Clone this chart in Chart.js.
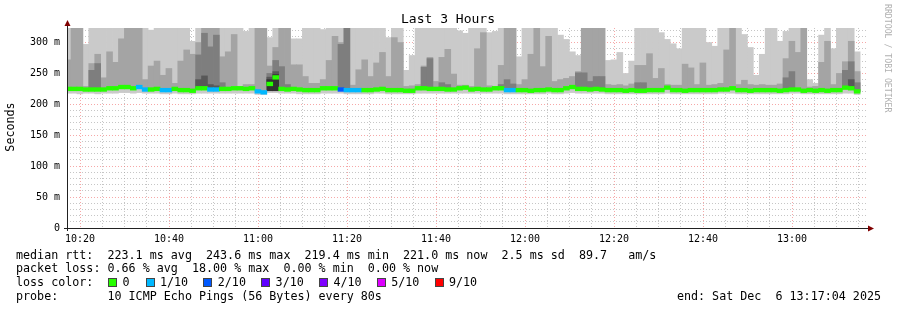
<!DOCTYPE html>
<html>
<head>
<meta charset="utf-8">
<title>Last 3 Hours</title>
<script src="https://cdn.jsdelivr.net/npm/chart.js@4"></script>
<style>
  body { margin: 0; background: #fff; }
  #wrap { position: relative; width: 897px; height: 310px; }
  .lg {
    position: absolute; white-space: pre; color: #000;
    font: 11.7px "DejaVu Sans Mono", monospace; line-height: 14px; height: 14px;
  }
  .box { position: absolute; width: 7px; height: 7px; border: 1px solid #444; }
</style>
</head>
<body>
<div id="wrap">
  <canvas id="chart" width="897" height="310"></canvas>
  <div class="lg" style="left:16px;top:248px">median rtt:  223.1 ms avg  243.6 ms max  219.4 ms min  221.0 ms now  2.5 ms sd  89.7   am/s</div>
  <div class="lg" style="left:16px;top:261px">packet loss: 0.66 % avg  18.00 % max  0.00 % min  0.00 % now</div>
  <div class="lg" style="left:16px;top:275px">loss color:</div>
  <div id="lossLegend"></div>
  <div class="lg" style="left:16px;top:289px">probe:       10 ICMP Echo Pings (56 Bytes) every 80s</div>
  <div class="lg" style="right:16px;top:289px">end: Sat Dec  6 13:17:04 2025</div>
</div>
<script>
// time axis in minutes after 10:00, one sample every 80 s
const viewStart = 17.07;   // 10:17:04
const viewEnd = 197.07;    // 13:17:04
const firstStep = 17.3;
const stepMin = 80 / 60;

// median rtt per step (ms)
const median = [
  225,225,225,224,224,224,224,226,226,228, 228,226,228,224,224,225,223,223,225,223,
  223,222,226,226,224,224,225,225,226,226, 225,226,221,219.4,233,243.6,225,224,225,224,
  223,223,223,226,226,226,224,223,223,223, 223,223,224,225,223,223,223,222,222,226,
  226,225,225,225,224,224,226,227,224,225, 224,224,226,226,223,223,223,223,222,223,
  223,224,223,223,226,228,225,225,224,225, 224,223,223,223,222,223,222,222,223,223,
  223,227,223,223,222,223,223,223,223,223, 224,224,226,223,223,222,223,223,223,223,
  222,223,224,224,222,223,222,223,222,223, 223,227,226,221,null
];
// lost pings out of 10 per step
const loss = [
  0,0,0,0,0,0,0,0,0,0, 0,0,1,1,0,0,1,1,0,0,
  0,0,0,0,1,1,0,0,0,0, 0,0,1,1,0,0,0,0,0,0,
  0,0,0,0,0,0,2,1,1,1, 0,0,0,0,0,0,0,0,0,0,
  0,0,0,0,0,0,0,0,0,0, 0,0,0,0,1,1,0,0,0,0,
  0,0,0,0,0,0,0,0,0,0, 0,0,0,0,0,0,0,0,0,0,
  0,0,0,0,0,0,0,0,0,0, 0,0,0,0,0,0,0,0,0,0,
  0,0,0,0,0,0,0,0,0,0, 0,0,0,0,0
];
// smoke: fastest ping, slowest ping and inner pings (ms)
const pingMin = [
  218,218,217,218,218,217,218,218,218,219, 219,218,219,218,218,218,217,217,218,217,
  217,217,218,218,218,218,218,218,218,218, 218,218,216,216,219,219,218,218,218,217,
  217,217,217,218,218,218,218,217,217,217, 217,217,218,218,217,217,217,217,217,218,
  218,218,218,218,218,218,218,218,218,218, 218,218,218,218,217,217,217,217,217,217,
  217,218,217,217,218,219,218,218,218,218, 218,217,217,217,217,217,217,217,217,217,
  217,218,217,217,217,217,217,217,217,217, 218,218,218,217,217,217,217,217,217,217,
  217,217,218,218,217,217,217,217,217,217, 217,218,218,216,null
];
const pingMax = [
  324,324,324,297,324,324,324,324,324,324, 324,324,324,324,320,324,324,324,324,324,
  324,302,324,324,324,324,324,324,324,324, 318,324,324,324,308,324,324,324,306,306,
  324,324,324,321,324,324,324,324,324,324, 324,324,324,324,308,324,324,255,279,324,
  324,324,324,324,324,324,319,315,324,324, 324,316,318,324,324,324,277,324,324,324,
  324,324,324,312,305,285,279,324,324,324, 324,271,272,284,250,270,324,324,324,324,
  316,305,298,290,324,324,324,324,300,294, 324,324,324,324,313,292,247,281,324,324,
  302,318,324,324,324,240,234,312,324,290, 324,324,324,285,null
];
const ping9 = [
  272,324,324,229,266,281,243,285,268,306, 324,324,324,240,262,270,247,258,234,270,
  288,281,300,324,324,324,277,285,313,229, 232,232,324,324,262,292,324,324,264,264,
  245,234,234,240,271,310,300,324,231,256, 272,245,267,284,245,308,300,229,230,232,
  262,276,237,276,289,249,231,231,229,290, 316,230,229,263,324,324,232,240,281,324,
  261,310,237,240,242,245,253,324,324,324, 324,232,231,232,230,233,263,263,282,242,
  258,232,231,231,265,259,232,267,231,232, 234,288,324,232,239,232,231,232,231,231,
  233,274,302,284,324,228,229,268,302,232, 250,269,302,253,null
];
// steps where the darker inner bands show up
const ping8 = { 4:255, 5:266, 22:280, 23:315, 24:293, 25:312, 26:235, 34:250, 35:271, 36:261,
  37:232, 46:297, 47:324, 60:260, 61:274, 63:235, 64:232, 73:232, 74:240, 75:233, 86:251,
  87:251, 88:237, 89:245, 90:245, 96:235, 97:235, 121:243, 122:253, 131:255, 132:269, 133:235 };
const ping7 = { 22:240, 23:246, 24:232, 25:230, 34:244, 35:253, 132:240 };
const ping6 = { 34:240, 35:248 };
const ping5 = { 34:222, 35:222 };

const lossSteps = [0, 1, 2, 3, 4, 5, 9];
const lossLabels = ['0', '1/10', '2/10', '3/10', '4/10', '5/10', '9/10'];
const lossColors = ['#26ff00', '#00b8ff', '#0059ff', '#5e00ff', '#7e00ff', '#dd00ff', '#ff0000'];

const yTicks = [];
for (let v = 0; v <= 320; v += 10) yTicks.push(v);
const xTicks = [];
for (let v = 20; v <= 195; v += 5) xTicks.push(v);

const GRID = 'rgba(160,160,160,0.6)';
const MGRID = 'rgba(240,110,110,0.6)';
const MONO = '"DejaVu Sans Mono", monospace';

const stepTimes = median.map((_, i) => firstStep + i * stepMin);

function lossColor(n) {
  let c = lossColors[0];
  lossSteps.forEach((s, k) => { if (n >= s) c = lossColors[k]; });
  return c;
}

function band(tops, lows) {
  const pts = [];
  stepTimes.forEach((t, i) => {
    const hi = tops[i];
    const lo = lows(i);
    if (hi != null && lo != null) pts.push({ x: t, y: [lo, hi] });
  });
  return pts;
}

const smokeBands = [
  { data: band(pingMax, i => pingMin[i]), color: '#cacaca', order: 6 },
  { data: band(ping9, i => median[i]), color: '#a4a4a4', order: 5 },
  { data: band(ping8, i => median[i]), color: '#7e7e7e', order: 4 },
  { data: band(ping7, i => median[i]), color: '#585858', order: 3 },
  { data: band(ping6, i => ping5[i]), color: '#323232', order: 2 }
];

const medianPts = [];
const medianColors = [];
stepTimes.forEach((t, i) => {
  if (median[i] == null) return;
  medianPts.push({ x: t, y: [median[i] - 3, median[i] + 3] });
  medianColors.push(lossColor(loss[i]));
});

const datasets = smokeBands.map(b => ({
  data: b.data, backgroundColor: b.color, order: b.order,
  grouped: false, barPercentage: 1, categoryPercentage: 1, borderWidth: 0
}));
datasets.push({
  data: medianPts, backgroundColor: medianColors, order: 1,
  grouped: false, barPercentage: 1, categoryPercentage: 1, borderWidth: 0
});

// loss colour legend
const lossLegend = document.getElementById('lossLegend');
lossLabels.forEach((lab, k) => {
  const bx = k === 0 ? 108 : 145.5 + (k - 1) * 57.8;
  const box = document.createElement('div');
  box.className = 'box';
  box.style.left = bx + 'px';
  box.style.top = '278px';
  box.style.background = lossColors[k];
  lossLegend.appendChild(box);
  const t = document.createElement('div');
  t.className = 'lg';
  t.style.left = (bx + 14.5) + 'px';
  t.style.top = '275px';
  t.textContent = lab;
  lossLegend.appendChild(t);
});

function hhmm(v) {
  const h = 10 + Math.floor(v / 60);
  const m = Math.round(v % 60);
  return h + ':' + String(m).padStart(2, '0');
}

// axes with arrows and the extra texts rrdtool puts around the graph
const decor = {
  id: 'decor',
  afterDraw(chart) {
    const ctx = chart.ctx;
    const a = chart.chartArea;
    ctx.save();
    ctx.strokeStyle = '#212121';
    ctx.lineWidth = 1;
    ctx.beginPath();
    ctx.moveTo(a.left + 0.5, a.bottom + 3);
    ctx.lineTo(a.left + 0.5, a.top - 4);
    ctx.moveTo(a.left - 3, a.bottom + 0.5);
    ctx.lineTo(a.right + 2, a.bottom + 0.5);
    ctx.stroke();
    ctx.fillStyle = '#800000';
    ctx.beginPath();
    ctx.moveTo(a.left + 0.5, a.top - 8);
    ctx.lineTo(a.left - 2.5, a.top - 2);
    ctx.lineTo(a.left + 3.5, a.top - 2);
    ctx.closePath();
    ctx.fill();
    ctx.beginPath();
    ctx.moveTo(a.right + 6, a.bottom + 0.5);
    ctx.lineTo(a.right, a.bottom - 2.5);
    ctx.lineTo(a.right, a.bottom + 3.5);
    ctx.closePath();
    ctx.fill();

    ctx.fillStyle = '#000';
    ctx.textAlign = 'center';
    ctx.textBaseline = 'middle';
    ctx.font = '13px ' + MONO;
    ctx.fillText('Last 3 Hours', 448, 20);

    ctx.font = '11.7px ' + MONO;
    ctx.translate(11, 127);
    ctx.rotate(-Math.PI / 2);
    ctx.fillText('Seconds', 0, 0);
    ctx.restore();

    ctx.save();
    ctx.fillStyle = '#b0b0b0';
    ctx.font = '8.2px ' + MONO;
    ctx.textAlign = 'left';
    ctx.textBaseline = 'middle';
    ctx.translate(887, 4);
    ctx.rotate(Math.PI / 2);
    ctx.fillText('RRDTOOL / TOBI OETIKER', 0, 0);
    ctx.restore();
  }
};

new Chart(document.getElementById('chart'), {
  type: 'bar',
  data: { datasets: datasets },
  options: {
    responsive: false,
    animation: false,
    events: [],
    layout: { padding: { left: 0, top: 28, right: 29, bottom: 0 } },
    plugins: { legend: { display: false }, tooltip: { enabled: false }, title: { display: false } },
    scales: {
      x: {
        type: 'linear',
        min: viewStart,
        max: viewEnd,
        offset: false,
        z: 1,
        afterFit: s => { s.height = 82; },
        afterBuildTicks: s => { s.ticks = xTicks.map(v => ({ value: v })); },
        grid: {
          offset: false,
          color: c => (c.tick && c.tick.value % 20 === 0 ? MGRID : GRID),
          drawTicks: false, lineWidth: 1
        },
        border: { display: false, dash: [1, 2] },
        ticks: {
          autoSkip: false, maxRotation: 0, padding: 5, color: '#000',
          font: { family: MONO, size: 10 },
          callback: v => (v % 20 === 0 ? hhmm(v) : '')
        }
      },
      y: {
        min: 0,
        max: 323.5,
        z: 1,
        afterFit: s => { s.width = 67; },
        afterBuildTicks: s => { s.ticks = yTicks.map(v => ({ value: v })); },
        grid: {
          color: c => (c.tick && c.tick.value % 50 === 0 ? MGRID : GRID),
          drawTicks: false, lineWidth: 1
        },
        border: { display: false, dash: [1, 2] },
        ticks: {
          autoSkip: false, padding: 7, color: '#000',
          font: { family: MONO, size: 10 },
          callback: v => (v === 0 ? '0' : v % 50 === 0 ? v + ' m' : '')
        }
      }
    }
  },
  plugins: [decor]
});
</script>
</body>
</html>
